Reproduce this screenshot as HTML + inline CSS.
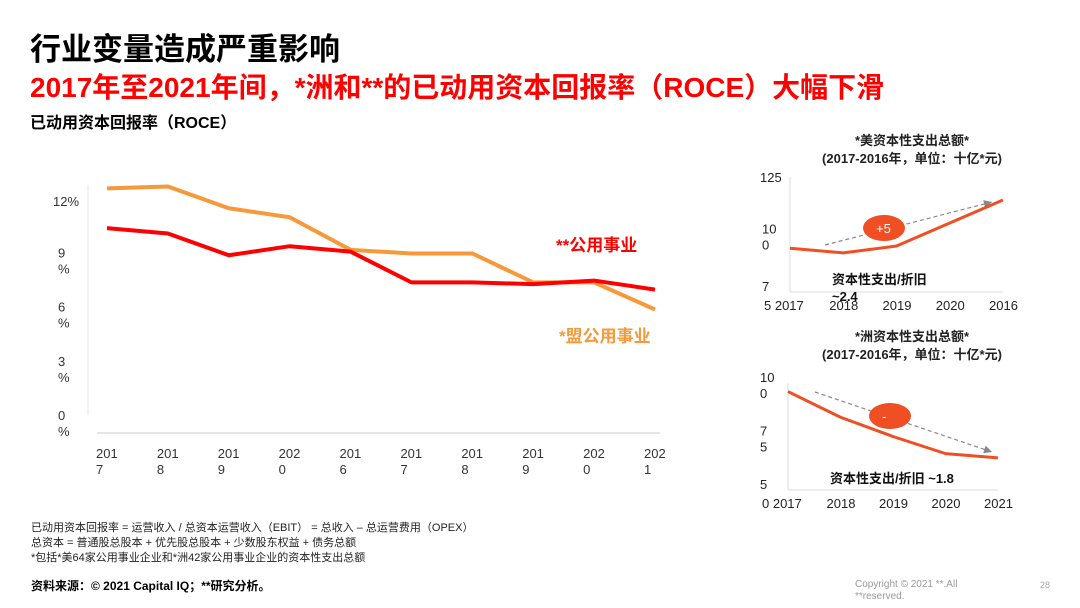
<!DOCTYPE html>
<html><head><meta charset="utf-8"><style>
body{margin:0;width:1080px;height:608px;background:#fff;position:relative;overflow:hidden;font-family:"Liberation Sans","Noto Sans CJK SC",sans-serif;}
.t{position:absolute;white-space:nowrap;}
</style></head><body>
<div class="t" style="left:30px;top:24px;font-size:31px;font-weight:bold;color:#000;">行业变量造成严重影响</div>
<div class="t" style="left:30px;top:66px;font-size:28px;font-weight:bold;color:#ff0000;">2017年至2021年间，*洲和**的已动用资本回报率（ROCE）大幅下滑</div>
<div class="t" style="left:30px;top:109px;font-size:16px;font-weight:bold;color:#000;">已动用资本回报率（ROCE）</div>
<svg id="main" style="position:absolute;left:0;top:0" width="1080" height="608"></svg>
<div class="t" style="left:31px;top:519px;font-size:11px;color:#222;">已动用资本回报率 = 运营收入 / 总资本运营收入（EBIT） = 总收入 – 总运营费用（OPEX）</div>
<div class="t" style="left:31px;top:534px;font-size:11px;color:#222;">总资本 = 普通股总股本 + 优先股总股本 + 少数股东权益 + 债务总额</div>
<div class="t" style="left:31px;top:549px;font-size:11px;color:#222;">*包括*美64家公用事业企业和*洲42家公用事业企业的资本性支出总额</div>
<div class="t" style="left:31px;top:577px;font-size:12px;font-weight:bold;color:#000;">资料来源：© 2021 Capital IQ；**研究分析。</div>
<div class="t" style="left:855px;top:579px;font-size:10px;color:#999;line-height:12px;">Copyright © 2021 **.All<br>**reserved.</div>
<div class="t" style="left:1040px;top:580px;font-size:9px;color:#aaa;">28</div>
<script>
const years=["2017","2018","2019","2020","2016","2017","2018","2019","2020","2021"];
const euVals=[12.7,12.8,11.6,11.1,9.3,9.1,9.1,7.5,7.5,6.0];
const usVals=[10.5,10.2,9.0,9.5,9.2,7.5,7.5,7.4,7.6,7.1];
const yTicks=[0,3,6,9,12];
const usCapYears=["2017","2018","2019","2020","2016"];
const usCapVals=[94,92,95,105,115];
const usCapTicks=[75,100,125];
const euCapYears=["2017","2018","2019","2020","2021"];
const euCapVals=[96,84,75,67,65];
const euCapTicks=[50,75,100];
const NS="http://www.w3.org/2000/svg";
const svg=document.getElementById('main');
function mk(tag,attrs,parent){const e=document.createElementNS(NS,tag);for(const k in attrs)e.setAttribute(k,attrs[k]);(parent||svg).appendChild(e);return e;}
const FONT='"Liberation Sans","Noto Sans CJK SC",sans-serif';
const x=i=>107+i*(655-107)/(years.length-1);
const y=v=>418-v*(418-201)/12;
let e=mk('line',{x1:88,y1:185,x2:88,y2:415,stroke:'#e6e6e6','stroke-width':1});

e=mk('line',{x1:97,y1:433,x2:660,y2:433,stroke:'#e6e6e6','stroke-width':2});

yTicks.forEach(v=>{
  const t=mk('text',{x:v===12?53:58,y:y(v)+(v===12?5:2),'font-size':13,fill:'#333','font-family':FONT});
  
  if(v===12)t.textContent='12%';else{
    const a=mk('tspan',{x:58},t);a.textContent=String(v);
    const b=mk('tspan',{x:58,dy:16},t);b.textContent='%';}
});
years.forEach((yr,i)=>{
  const t=mk('text',{x:x(i)-1,y:458,'font-size':13,fill:'#333','font-family':FONT});
  
  const a=mk('tspan',{x:x(i)-11},t);a.textContent=yr.slice(0,3);
  const b=mk('tspan',{x:x(i)-11,dy:16},t);b.textContent=yr.slice(3);
});
function line(vals,color,w,name,xf,yf){
  const p=mk('polyline',{points:vals.map((v,i)=>xf(i)+','+yf(v)).join(' '),fill:'none',stroke:color,'stroke-width':w,'stroke-linejoin':'round'});
  return p;}
line(euVals,'#F7993A',4,'eu-utilities-line',x,y);
line(usVals,'#FF0000',4,'us-utilities-line',x,y);
e=mk('text',{x:556,y:251,'font-size':17,'font-weight':'bold',fill:'#FF0000','font-family':FONT});e.textContent='**公用事业';

e=mk('text',{x:559,y:342,'font-size':17,'font-weight':'bold',fill:'#F7993A','font-family':FONT});e.textContent='*盟公用事业';


function small(o){
  const xf=i=>o.x0+i*(o.x1-o.x0)/(o.years.length-1);
  const yf=v=>o.base-(v-o.ticks[0])*(o.base-o.top)/(o.ticks[2]-o.ticks[0]);
  let t=mk('text',{x:912,y:o.ty,'font-size':13,'font-weight':'bold','text-anchor':'middle',fill:'#222','font-family':FONT});t.textContent=o.title;
  
  t=mk('text',{x:912,y:o.ty+18,'font-size':13,'font-weight':'bold','text-anchor':'middle',fill:'#222','font-family':FONT});t.textContent='(2017-2016年，单位：十亿*元)';
  
  let a=mk('line',{x1:o.x0,y1:o.top,x2:o.x0,y2:o.base,stroke:'#ddd'});
  a=mk('line',{x1:o.x0,y1:o.base,x2:o.x1,y2:o.base,stroke:'#ddd'});
  o.ticks.forEach((v,k)=>{
    const s=String(v);
    const whole=(k===2&&o.topWhole);
    const tt=mk('text',{x:o.x0-30,y:yf(v)+(whole?5:-1),'font-size':13,fill:'#222','font-family':FONT});
    
    if(whole)tt.textContent=s;else{
      const p=mk('tspan',{x:o.x0-28},tt);p.textContent=s.slice(0,s.length-1);
      if(k!==0){const q=mk('tspan',{x:o.x0-28,dy:16},tt);q.textContent=s.slice(-1);}
    }
  });
  o.years.forEach((yr,i)=>{
    const tt=mk('text',{x:xf(i)-14,y:o.base+18,'font-size':13,fill:'#222','font-family':FONT});tt.textContent=(i===0?o.first+' ':'')+yr;
    if(i===0)tt.setAttribute('x',o.x0-26);
    
  });
  a=mk('line',{x1:o.ax[0],y1:o.ax[1],x2:o.ax[2],y2:o.ax[3],stroke:'#888','stroke-width':1.2,'stroke-dasharray':'4,3'});
  
  const ang=Math.atan2(o.ax[3]-o.ax[1],o.ax[2]-o.ax[0]);
  const hx=o.ax[2],hy=o.ax[3];
  a=mk('polygon',{points:`${hx},${hy} ${hx-8*Math.cos(ang)+4*Math.sin(ang)},${hy-8*Math.sin(ang)-4*Math.cos(ang)} ${hx-8*Math.cos(ang)-4*Math.sin(ang)},${hy-8*Math.sin(ang)+4*Math.cos(ang)}`,fill:'#888'});
  
  line(o.vals,'#F04E23',3,o.name+'-line',xf,yf);
  a=mk('ellipse',{cx:o.el[0],cy:o.el[1],rx:21,ry:13,fill:'#F04E23'});
  t=mk('text',{x:o.el[0]-8,y:o.el[1]+5,'font-size':13,fill:'#fff','font-family':FONT});t.textContent=o.badge;
  
  t=mk('text',{x:o.note[0],y:o.note[1],'font-size':13,'font-weight':'bold',fill:'#111','font-family':FONT});t.textContent=o.noteText;
  
  if(o.note2){t=mk('text',{x:o.note[0],y:o.note[1]+17,'font-size':13,'font-weight':'bold',fill:'#111','font-family':FONT});t.textContent=o.note2;
  }
}
small({name:'us-capex',title:'*美资本性支出总额*',ty:145,years:usCapYears,vals:usCapVals,ticks:usCapTicks,topWhole:true,x0:790,x1:1003,top:177,base:292,first:'5',ax:[825,245,992,202],el:[884,228],badge:'+5',note:[832,284],noteText:'资本性支出/折旧',note2:'~2.4'});
small({name:'eu-capex',title:'*洲资本性支出总额*',ty:341,years:euCapYears,vals:euCapVals,ticks:euCapTicks,topWhole:false,x0:788,x1:998,top:383,base:490,first:'0',ax:[815,392,992,452],el:[890,416],badge:'-',note:[830,483],noteText:'资本性支出/折旧 ~1.8'});
</script>
</body></html>
